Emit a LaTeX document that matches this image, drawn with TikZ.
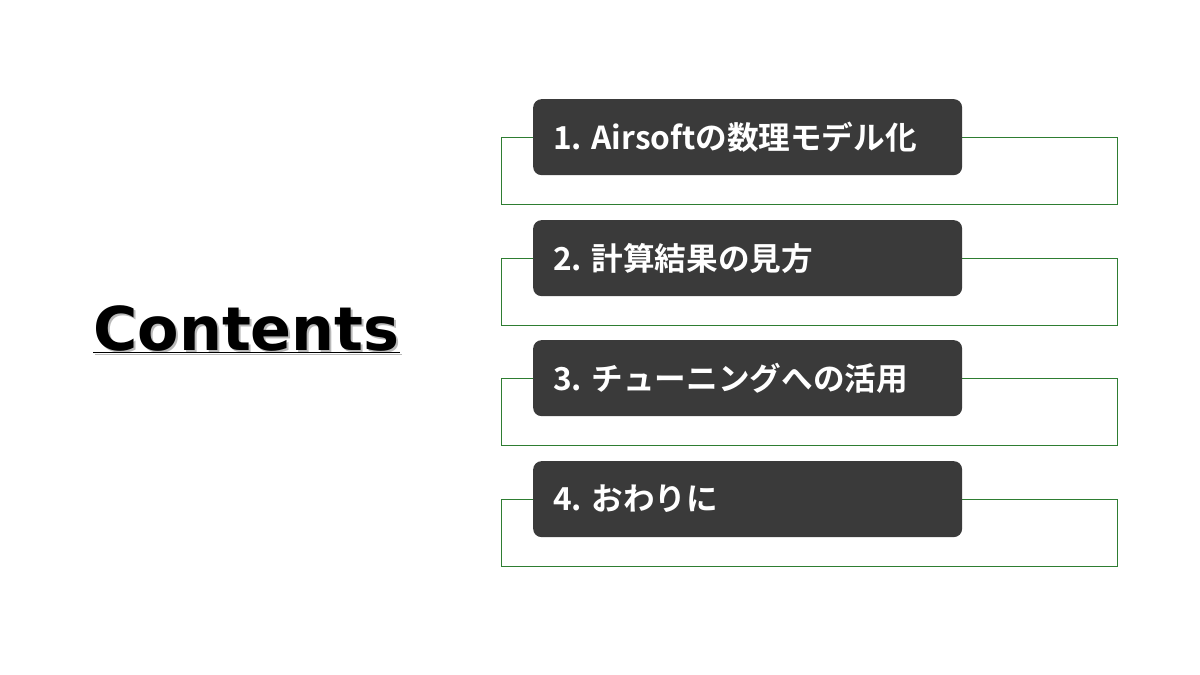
\documentclass[tikz,border=0pt]{standalone}
\usepackage{fontspec}
\newfontfamily\cjk{Noto Sans CJK JP}[BoldFont={* Bold}]
\newfontfamily\titlefont{DejaVu Sans}
\definecolor{boxdark}{HTML}{3A3A3A}
\definecolor{frame}{HTML}{2E7D32}
\begin{document}
\begin{tikzpicture}[x=0.05cm,y=-0.05cm,
  item/.style={fill=boxdark,rounded corners=12,draw=none},
  gframe/.style={draw=frame,line width=1.1pt},
  itxt/.style={anchor=west,text=white,font=\cjk\bfseries\fontsize{45}{50}\selectfont,inner sep=0}]
\useasboundingbox (0,0) rectangle (1200,675);
\foreach \i/\t/\txt in {1/99/{1. Airsoftの数理モデル化},2/220/{2. 計算結果の見方},3/340/{3. チューニングへの活用},4/461/{4. おわりに}}{
  \draw[gframe] (501,\t+38) rectangle (1117,\t+105);
  \node[item,minimum width=429*0.05cm,minimum height=76*0.05cm,anchor=north west] (b\i) at (533,\t) {};
  \node[itxt] (t\i) at (553,\t+38) {\txt};
}
\node[anchor=base west,inner sep=0,text=gray!55,font=\titlefont\bfseries\fontsize{86}{90}\selectfont] (sh) at (95,352) {\underline{Contents}};
\node[anchor=base west,inner sep=0,text=black,font=\titlefont\bfseries\fontsize{86}{90}\selectfont] (ti) at (93,350) {\underline{Contents}};
\end{tikzpicture}
\end{document}
